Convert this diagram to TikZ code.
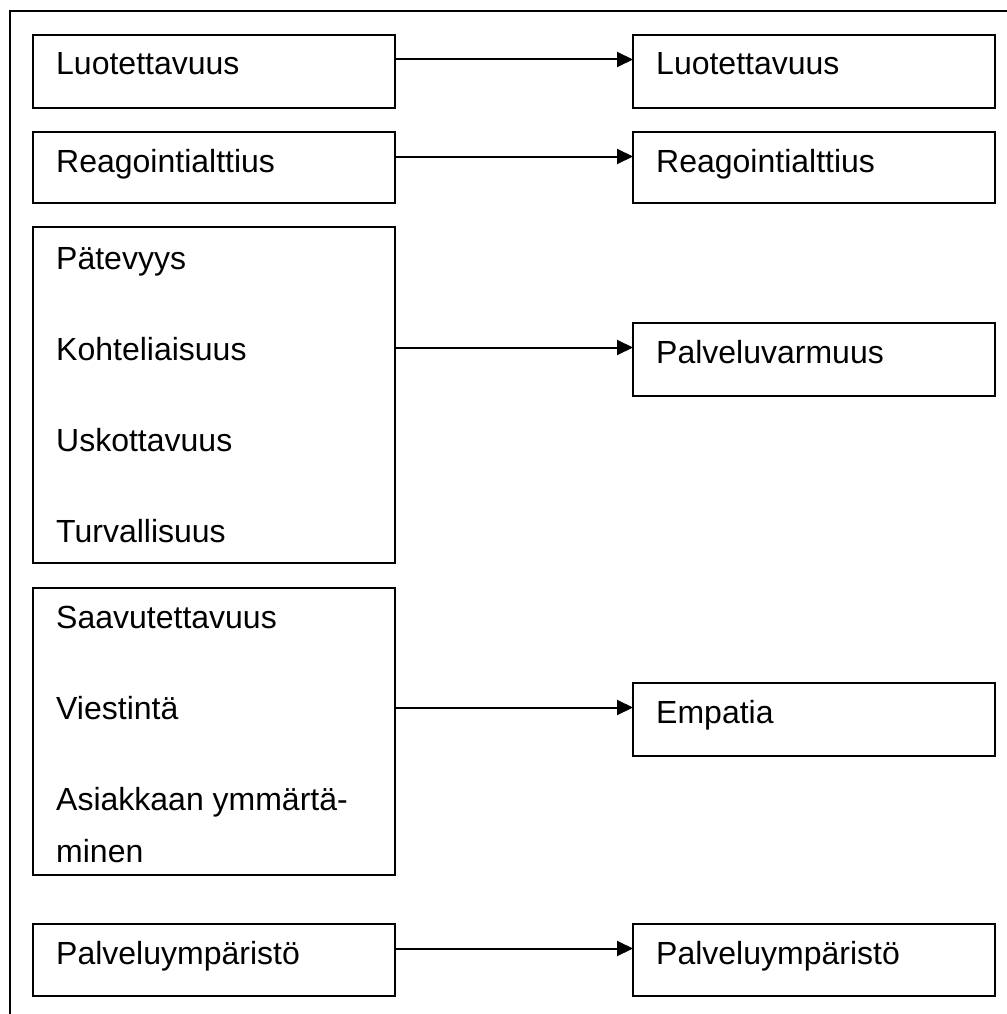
\documentclass[tikz,border=0pt]{standalone}
\usepackage{fontspec}
\setmainfont{Liberation Sans}
\usetikzlibrary{arrows.meta,calc}
\begin{document}
\begin{tikzpicture}[x=1pt,y=-1pt,
  box/.style={draw, line width=2.4pt, inner sep=0pt, outer sep=0pt, anchor=north west,
              minimum width=362pt},
  txt/.style={anchor=base west, inner sep=0pt, font=\fontsize{32}{36}\selectfont},
  arr/.style={line width=2pt, -{Triangle[length=16pt,width=15pt]}}]
\useasboundingbox (0,0) rectangle (1006,1014);
% surrounding frame (top and left edges)
\draw[line width=2.4pt] (10,1020) -- (10,11) -- (1012,11);

% left column
\node[box, minimum height=73pt]  (l1) at (33,35)  {};
\node[box, minimum height=71pt]  (l2) at (33,132) {};
\node[box, minimum height=336pt] (l3) at (33,227) {};
\node[box, minimum height=287pt] (l4) at (33,588) {};
\node[box, minimum height=72pt]  (l5) at (33,924) {};

% right column
\node[box, minimum height=73pt] (r1) at (633,35)  {};
\node[box, minimum height=71pt] (r2) at (633,132) {};
\node[box, minimum height=73pt] (r3) at (633,323) {};
\node[box, minimum height=73pt] (r4) at (633,683) {};
\node[box, minimum height=72pt] (r5) at (633,924) {};

% texts
\node[txt] (t1)  at (56,75)  {Luotettavuus};
\node[txt] (t2)  at (56,172) {Reagointialttius};
\node[txt] (t3a) at (56,269) {Pätevyys};
\node[txt] (t3b) at (56,360) {Kohteliaisuus};
\node[txt] (t3c) at (56,451) {Uskottavuus};
\node[txt] (t3d) at (56,542) {Turvallisuus};
\node[txt] (t4a) at (56,628) {Saavutettavuus};
\node[txt] (t4b) at (56,719) {Viestintä};
\node[txt] (t4c) at (56,810) {Asiakkaan ymmärtä-};
\node[txt] (t4d) at (56,862) {minen};
\node[txt] (t5)  at (56,964) {Palveluympäristö};

\node[txt] (u1) at (656,75)  {Luotettavuus};
\node[txt] (u2) at (656,172) {Reagointialttius};
\node[txt] (u3) at (656,363) {Palveluvarmuus};
\node[txt] (u4) at (656,723) {Empatia};
\node[txt] (u5) at (656,964) {Palveluympäristö};

% connectors
\foreach \i in {1,...,5}{
  \coordinate (a\i) at ($(r\i.north west)+(0,24.5)$);
  \draw[arr] (l\i.east |- a\i) -- (a\i);
}
\end{tikzpicture}
\end{document}
